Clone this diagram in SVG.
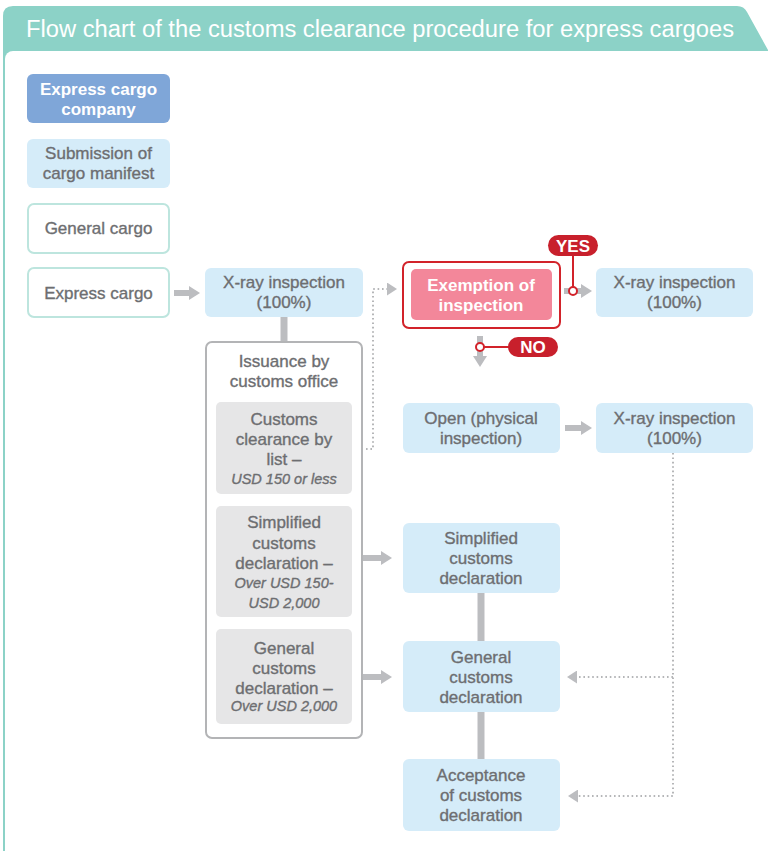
<svg xmlns="http://www.w3.org/2000/svg" width="768" height="851" viewBox="0 0 768 851">
<style>
.t{font-family:"Liberation Sans",Arial,sans-serif;font-size:17px;fill:#6d6e71;text-anchor:middle;stroke:#6d6e71;stroke-width:0.35}
.it{font-style:italic;font-size:14.5px}
.w{fill:#fff;font-weight:bold;stroke:none}
.blue{fill:#d5ecf9}
.grey{fill:#e6e6e7}
.arr{stroke:#bcbdc0;stroke-width:6;fill:none}
.dot{stroke:#b5b6b8;stroke-width:2;stroke-dasharray:1.6 2.8;fill:none}
.bar{stroke:#bcbdc0;stroke-width:7;fill:none}
.red{stroke:#d2232a;stroke-width:2;fill:none}
</style>
<defs>
<marker id="ah" markerUnits="userSpaceOnUse" markerWidth="11" markerHeight="14" refX="0" refY="7" orient="auto"><path d="M0,0 L11,7 L0,14 Z" fill="#bcbdc0"/></marker>
<marker id="dh" markerUnits="userSpaceOnUse" markerWidth="10" markerHeight="13" refX="0" refY="6.5" orient="auto"><path d="M0,0 L10,6.5 L0,13 Z" fill="#bcbdc0"/></marker>
</defs>

<g id="frame">
<path d="M3,70 L3,16 Q3,6 13,6 L737,6 Q744,6 747,12 L768,50 L768,70 Z" fill="#8cd2c7"/>
<rect x="3" y="60" width="2" height="791" fill="#8cd2c7"/>
<rect x="5" y="51" width="780" height="820" rx="8" fill="#fff"/>
<text x="26" y="37" font-family="Liberation Sans, Arial, sans-serif" font-size="23.5" fill="#fff" textLength="708" lengthAdjust="spacingAndGlyphs">Flow chart of the customs clearance procedure for express cargoes</text>
</g>

<g id="connectors">
<line class="arr" x1="174" y1="293" x2="189" y2="293" marker-end="url(#ah)"/>
<line class="bar" x1="284" y1="317" x2="284" y2="343"/>
<path class="dot" d="M366,449 H373 V289 H387" marker-end="url(#dh)"/>
<line class="arr" x1="564" y1="291" x2="581" y2="291" marker-end="url(#ah)"/>
<line class="arr" x1="480" y1="336" x2="480" y2="356" marker-end="url(#ah)"/>
<line class="arr" x1="565" y1="428" x2="581" y2="428" marker-end="url(#ah)"/>
<line class="arr" x1="363" y1="558" x2="381" y2="558" marker-end="url(#ah)"/>
<line class="arr" x1="363" y1="677" x2="381" y2="677" marker-end="url(#ah)"/>
<line class="bar" x1="481" y1="593" x2="481" y2="641"/>
<line class="bar" x1="481" y1="712" x2="481" y2="759"/>
<path class="dot" d="M673,453 V796 H578" marker-end="url(#dh)"/>
<path class="dot" d="M673,677 H577" marker-end="url(#dh)"/>
<line class="red" x1="573" y1="256" x2="573" y2="287"/>
<circle cx="573" cy="291" r="4" fill="#fff" stroke="#d2232a" stroke-width="2"/>
<line class="red" x1="484" y1="347" x2="510" y2="347"/>
<circle cx="480" cy="347" r="4" fill="#fff" stroke="#d2232a" stroke-width="2"/>
</g>

<g id="express-cargo-company">
<rect x="27" y="74" width="143" height="49" rx="6" fill="#7fa6d8"/>
<text class="t w" x="98.5" y="95">Express cargo</text>
<text class="t w" x="98.5" y="115">company</text>
</g>
<g id="submission">
<rect class="blue" x="27" y="139" width="143" height="49" rx="6"/>
<text class="t" x="98.5" y="159">Submission of</text>
<text class="t" x="98.5" y="179">cargo manifest</text>
</g>
<g id="general-cargo">
<rect x="28" y="204" width="141" height="49" rx="6" fill="#fff" stroke="#bde5de" stroke-width="2"/>
<text class="t" x="98.5" y="234">General cargo</text>
</g>
<g id="express-cargo">
<rect x="28" y="268" width="141" height="49" rx="6" fill="#fff" stroke="#bde5de" stroke-width="2"/>
<text class="t" x="98.5" y="299">Express cargo</text>
</g>
<g id="xray1">
<rect class="blue" x="205" y="268" width="158" height="49" rx="6"/>
<text class="t" x="284" y="288">X-ray inspection</text>
<text class="t" x="284" y="308">(100%)</text>
</g>
<g id="issuance">
<rect x="206" y="342" width="156" height="396" rx="6" fill="#fff" stroke="#b3b4b6" stroke-width="2"/>
<text class="t" x="284" y="367">Issuance by</text>
<text class="t" x="284" y="387">customs office</text>
</g>
<g id="list-clearance">
<rect class="grey" x="216" y="402" width="136" height="92" rx="5"/>
<text class="t" x="284" y="425">Customs</text>
<text class="t" x="284" y="445">clearance by</text>
<text class="t" x="284" y="465">list –</text>
<text class="t it" x="284" y="484">USD 150 or less</text>
</g>
<g id="simplified-sub">
<rect class="grey" x="216" y="506" width="136" height="111" rx="5"/>
<text class="t" x="284" y="528">Simplified</text>
<text class="t" x="284" y="549">customs</text>
<text class="t" x="284" y="569">declaration –</text>
<text class="t it" x="284" y="588">Over USD 150-</text>
<text class="t it" x="284" y="608">USD 2,000</text>
</g>
<g id="general-sub">
<rect class="grey" x="216" y="629" width="136" height="95" rx="5"/>
<text class="t" x="284" y="654">General</text>
<text class="t" x="284" y="674">customs</text>
<text class="t" x="284" y="694">declaration –</text>
<text class="t it" x="284" y="711">Over USD 2,000</text>
</g>
<g id="exemption">
<rect x="403" y="262" width="157" height="66" rx="6" fill="#fff" stroke="#d2232a" stroke-width="2"/>
<rect x="411" y="269" width="141" height="51" rx="5" fill="#f3879a"/>
<text class="t w" x="481" y="291">Exemption of</text>
<text class="t w" x="481" y="311">inspection</text>
</g>
<g id="yes">
<rect x="548" y="235" width="50" height="21" rx="10.5" fill="#c8202c"/>
<text class="t w" x="573" y="252">YES</text>
</g>
<g id="no">
<rect x="508" y="337" width="50" height="20" rx="10" fill="#c8202c"/>
<text class="t w" x="533" y="353">NO</text>
</g>
<g id="xray2">
<rect class="blue" x="596" y="268" width="157" height="49" rx="6"/>
<text class="t" x="674.5" y="288">X-ray inspection</text>
<text class="t" x="674.5" y="308">(100%)</text>
</g>
<g id="open">
<rect class="blue" x="403" y="403" width="157" height="50" rx="6"/>
<text class="t" x="481" y="424">Open (physical</text>
<text class="t" x="481" y="444">inspection)</text>
</g>
<g id="xray3">
<rect class="blue" x="596" y="403" width="157" height="50" rx="6"/>
<text class="t" x="674.5" y="424">X-ray inspection</text>
<text class="t" x="674.5" y="444">(100%)</text>
</g>
<g id="simplified">
<rect class="blue" x="403" y="523" width="157" height="70" rx="6"/>
<text class="t" x="481" y="544">Simplified</text>
<text class="t" x="481" y="564">customs</text>
<text class="t" x="481" y="584">declaration</text>
</g>
<g id="general">
<rect class="blue" x="403" y="641" width="157" height="71" rx="6"/>
<text class="t" x="481" y="663">General</text>
<text class="t" x="481" y="683">customs</text>
<text class="t" x="481" y="703">declaration</text>
</g>
<g id="acceptance">
<rect class="blue" x="403" y="759" width="157" height="72" rx="6"/>
<text class="t" x="481" y="781">Acceptance</text>
<text class="t" x="481" y="801">of customs</text>
<text class="t" x="481" y="821">declaration</text>
</g>
</svg>
